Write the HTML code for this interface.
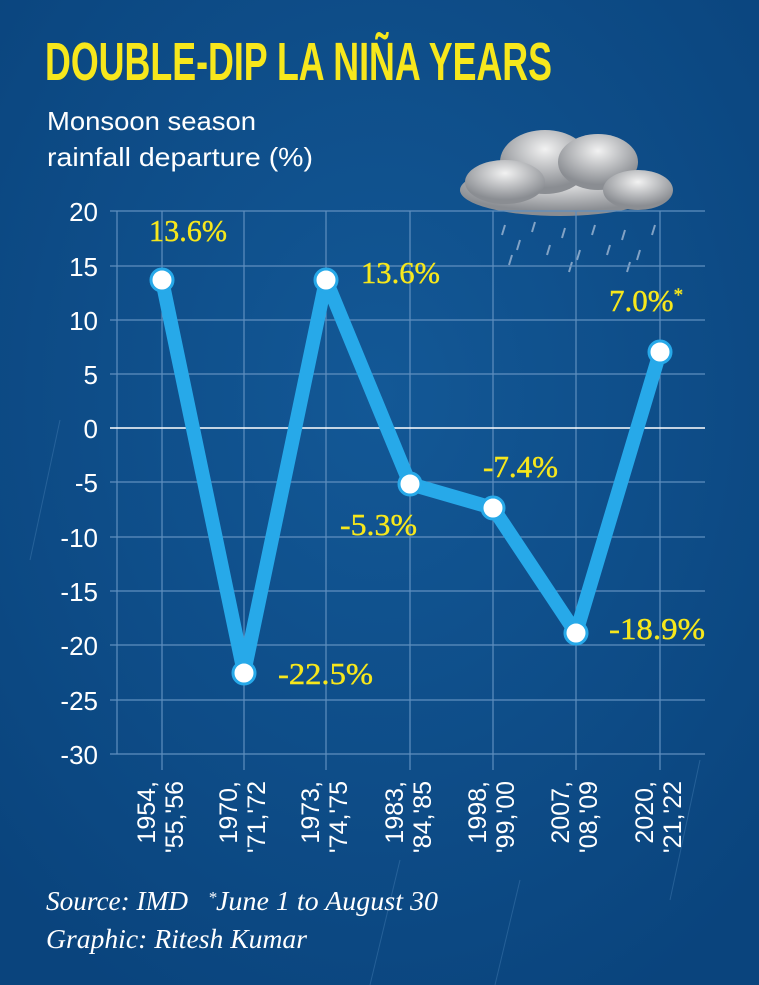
<!DOCTYPE html>
<html><head><meta charset="utf-8"><style>
html,body{margin:0;padding:0;}
body{width:759px;height:985px;background:#0d4e89;overflow:hidden;position:relative;font-family:"Liberation Sans",sans-serif;}
</style></head><body>
<svg width="759" height="985" viewBox="0 0 759 985" xmlns="http://www.w3.org/2000/svg" style="position:absolute;left:0;top:0">
<defs>
<radialGradient id="bg" cx="50%" cy="40%" r="70%"><stop offset="0" stop-color="#135896"/><stop offset="1" stop-color="#0a447d"/></radialGradient>
<radialGradient id="cl" cx="50%" cy="30%" r="60%"><stop offset="0" stop-color="#f2f2f2"/><stop offset="1" stop-color="#8a8d92"/></radialGradient>
</defs>
<rect width="759" height="985" fill="url(#bg)"/>
<g stroke="#3f78ad" stroke-width="1" opacity="0.5">
<line x1="60" y1="420" x2="30" y2="560"/><line x1="700" y1="760" x2="670" y2="900"/><line x1="400" y1="860" x2="370" y2="985"/><line x1="520" y1="880" x2="495" y2="985"/>
</g>
<text x="45" y="80" fill="#f7e71c" font-family="'Liberation Sans Narrow','Liberation Sans',sans-serif" font-weight="bold" font-size="54" textLength="507" lengthAdjust="spacingAndGlyphs">DOUBLE-DIP LA NIÑA YEARS</text>
<text x="47" y="130" fill="#fff" font-size="26" textLength="209" lengthAdjust="spacingAndGlyphs">Monsoon season</text>
<text x="47" y="166" fill="#fff" font-size="26" textLength="266" lengthAdjust="spacingAndGlyphs">rainfall departure (%)</text>
<!-- cloud -->
<g>
<ellipse cx="560" cy="190" rx="100" ry="26" fill="url(#cl)"/>
<ellipse cx="545" cy="162" rx="45" ry="32" fill="url(#cl)"/>
<ellipse cx="598" cy="162" rx="40" ry="28" fill="url(#cl)"/>
<ellipse cx="505" cy="182" rx="40" ry="22" fill="url(#cl)"/>
<ellipse cx="638" cy="190" rx="35" ry="20" fill="url(#cl)"/>
</g>
<g stroke="#9fb8d4" stroke-width="2" opacity="0.8">
<line x1="505" y1="225" x2="502" y2="235"/><line x1="520" y1="240" x2="517" y2="250"/><line x1="535" y1="222" x2="532" y2="232"/><line x1="550" y1="245" x2="547" y2="255"/><line x1="565" y1="228" x2="562" y2="238"/><line x1="580" y1="250" x2="577" y2="260"/><line x1="595" y1="225" x2="592" y2="235"/><line x1="610" y1="245" x2="607" y2="255"/><line x1="625" y1="230" x2="622" y2="240"/><line x1="640" y1="250" x2="637" y2="260"/><line x1="655" y1="225" x2="652" y2="235"/><line x1="512" y1="255" x2="509" y2="265"/><line x1="572" y1="262" x2="569" y2="272"/><line x1="630" y1="262" x2="627" y2="272"/>
</g>
<!-- grid -->
<g stroke="#5f8fbf" stroke-width="1.2">
<line x1="110" y1="211" x2="705" y2="211"/><line x1="110" y1="266" x2="705" y2="266"/><line x1="110" y1="320" x2="705" y2="320"/><line x1="110" y1="374" x2="705" y2="374"/>
<line x1="110" y1="482" x2="705" y2="482"/><line x1="110" y1="537" x2="705" y2="537"/><line x1="110" y1="591" x2="705" y2="591"/><line x1="110" y1="645" x2="705" y2="645"/><line x1="110" y1="700" x2="705" y2="700"/><line x1="110" y1="754" x2="705" y2="754"/>
<line x1="117" y1="211" x2="117" y2="754"/>
<line x1="162" y1="211" x2="162" y2="770"/><line x1="244" y1="211" x2="244" y2="770"/><line x1="326" y1="211" x2="326" y2="770"/><line x1="410" y1="211" x2="410" y2="770"/><line x1="493" y1="211" x2="493" y2="770"/><line x1="576" y1="211" x2="576" y2="770"/><line x1="660" y1="211" x2="660" y2="770"/>
</g>
<line x1="110" y1="428" x2="705" y2="428" stroke="#fff" stroke-width="1.5"/>
<g fill="#fff" font-size="26" text-anchor="end">
<text x="98" y="221">20</text><text x="98" y="276">15</text><text x="98" y="330">10</text><text x="98" y="384">5</text><text x="98" y="438">0</text>
<text x="98" y="492">-5</text><text x="98" y="547">-10</text><text x="98" y="601">-15</text><text x="98" y="655">-20</text><text x="98" y="710">-25</text><text x="98" y="764">-30</text>
</g>
<g fill="#fff" font-size="25" text-anchor="end">
<g transform="translate(162,781) rotate(-90)"><text x="0" y="-7">1954,</text><text x="0" y="21">'55,'56</text></g>
<g transform="translate(244,781) rotate(-90)"><text x="0" y="-7">1970,</text><text x="0" y="21">'71,'72</text></g>
<g transform="translate(326,781) rotate(-90)"><text x="0" y="-7">1973,</text><text x="0" y="21">'74,'75</text></g>
<g transform="translate(410,781) rotate(-90)"><text x="0" y="-7">1983,</text><text x="0" y="21">'84,'85</text></g>
<g transform="translate(493,781) rotate(-90)"><text x="0" y="-7">1998,</text><text x="0" y="21">'99,'00</text></g>
<g transform="translate(576,781) rotate(-90)"><text x="0" y="-7">2007,</text><text x="0" y="21">'08,'09</text></g>
<g transform="translate(660,781) rotate(-90)"><text x="0" y="-7">2020,</text><text x="0" y="21">'21,'22</text></g>
</g>
<polyline points="162,280 244,673 326,280 410,484 493,508 576,633 660,352" fill="none" stroke="#27a9e9" stroke-width="14" stroke-linejoin="round" stroke-linecap="round"/>
<g fill="#fff" stroke="#27a9e9" stroke-width="3">
<circle cx="162" cy="280" r="11"/><circle cx="244" cy="673" r="11"/><circle cx="326" cy="280" r="11"/><circle cx="410" cy="484" r="11"/><circle cx="493" cy="508" r="11"/><circle cx="576" cy="633" r="11"/><circle cx="660" cy="352" r="11"/>
</g>
<g fill="#f7e71c" font-family="'Liberation Serif',serif" font-size="31" stroke="#f7e71c" stroke-width="0.4">
<text x="149" y="241" textLength="78" lengthAdjust="spacingAndGlyphs">13.6%</text>
<text x="278" y="684" textLength="95" lengthAdjust="spacingAndGlyphs">-22.5%</text>
<text x="361" y="283" textLength="79" lengthAdjust="spacingAndGlyphs">13.6%</text>
<text x="340" y="535" textLength="77" lengthAdjust="spacingAndGlyphs">-5.3%</text>
<text x="483" y="477" textLength="75" lengthAdjust="spacingAndGlyphs">-7.4%</text>
<text x="609" y="639" textLength="96" lengthAdjust="spacingAndGlyphs">-18.9%</text>
<text x="609" y="311">7.0%<tspan font-size="19" dy="-10">*</tspan></text>
</g>
<g fill="#fff" font-family="'Liberation Serif',serif" font-style="italic" font-size="27">
<text x="46" y="910" textLength="142" lengthAdjust="spacingAndGlyphs">Source: IMD</text>
<text x="208" y="903" font-size="17">*</text>
<text x="216" y="910" textLength="222" lengthAdjust="spacingAndGlyphs">June 1 to August 30</text>
<text x="46" y="948" textLength="261" lengthAdjust="spacingAndGlyphs">Graphic: Ritesh Kumar</text>
</g>
</svg>
</body></html>
